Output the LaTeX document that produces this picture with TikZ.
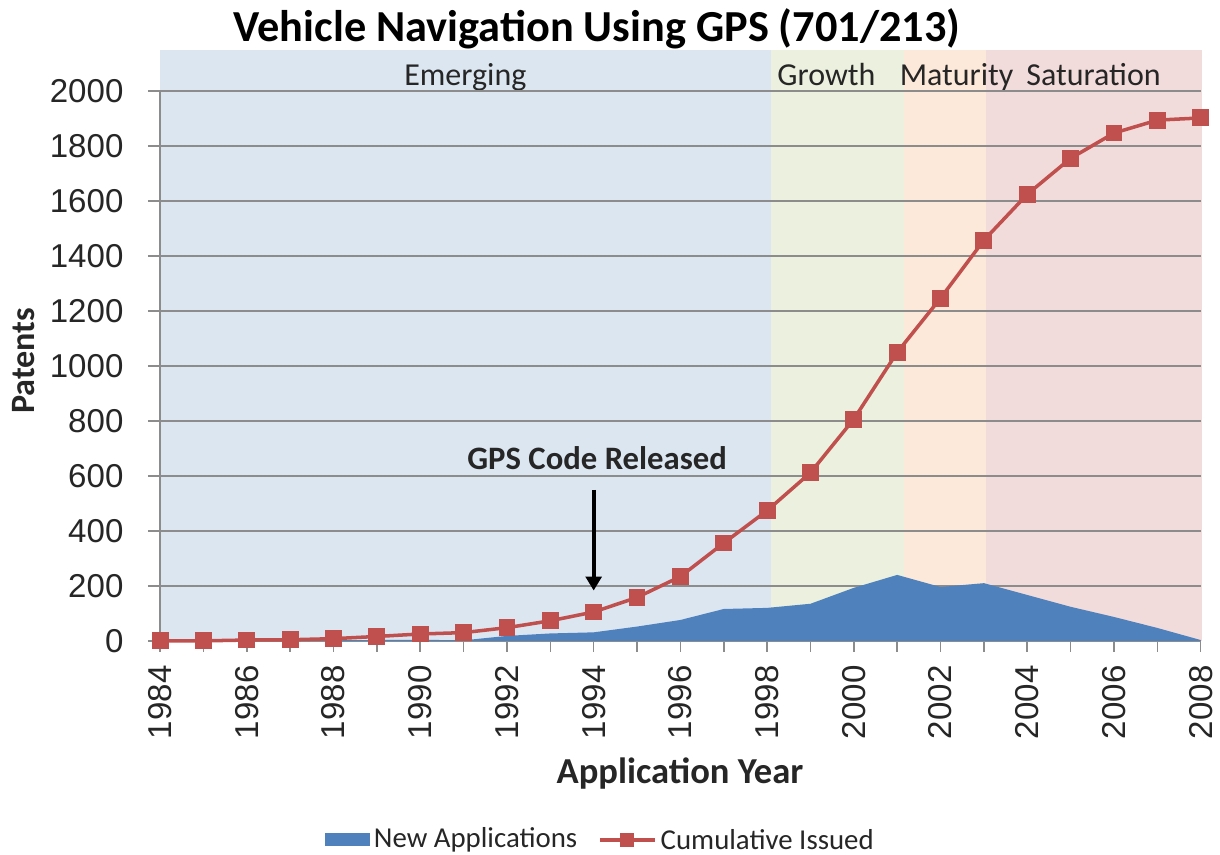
\documentclass[tikz,border=0pt]{standalone}
\usepackage{fontspec}
\setmainfont{Carlito}
\newfontfamily\numfont{Liberation Sans}
\usetikzlibrary{positioning,arrows.meta,plotmarks}

\definecolor{emergingbg}{RGB}{220,230,241}
\definecolor{growthbg}{RGB}{235,241,222}
\definecolor{maturitybg}{RGB}{253,233,217}
\definecolor{saturationbg}{RGB}{242,220,219}
\definecolor{newappblue}{RGB}{79,129,189}
\definecolor{issuedred}{RGB}{192,80,77}
\definecolor{gridgray}{RGB}{140,140,140}
\definecolor{labelgray}{RGB}{38,38,38}

\begin{document}
\begin{tikzpicture}[x=0.01cm, y=0.01cm]
    % Define styles
    \tikzstyle{band} = [draw=none]
    \tikzstyle{gridline} = [draw=gridgray, line width=0.45pt]
    \tikzstyle{phase} = [anchor=base, inner sep=0pt, text=labelgray, font=\fontsize{9.1}{11}\selectfont]
    \tikzstyle{ytick} = [anchor=east, inner sep=0pt, text=labelgray, font=\numfont\fontsize{9.4}{11}\selectfont]
    \tikzstyle{xtick} = [anchor=east, rotate=90, inner sep=0pt, text=labelgray, font=\numfont\fontsize{9.4}{11}\selectfont]
    \tikzstyle{axistitle} = [inner sep=0pt, text=labelgray, font=\bfseries\fontsize{10.4}{12}\selectfont]
    \tikzstyle{legendtext} = [anchor=west, inner sep=0pt, text=labelgray, font=\fontsize{8.2}{10}\selectfont]
    \tikzstyle{issued} = [draw=issuedred, line width=1pt]
    \tikzstyle{arrow} = [line width=1.2pt, -{Triangle[length=4pt,width=4.5pt]}]

    \useasboundingbox (0,0) rectangle (1220,855);

    % Title
    \node (title) [anchor=base, inner sep=0pt, font=\bfseries\fontsize{12.6}{15}\selectfont] at (597,813) {Vehicle Navigation Using GPS (701/213)};

    % Plot area: one unit in x is a year after 1984, one unit in y is a patent
    \begin{scope}[shift={(1.6cm,2.14cm)}, x=0.43333cm, y=0.00275cm]
        % Life cycle phases
        \fill[band, emergingbg] (0,0) rectangle (14.08,2149);
        \fill[band, growthbg] (14.08,0) rectangle (17.15,2149);
        \fill[band, maturitybg] (17.15,0) rectangle (19.04,2149);
        \fill[band, saturationbg] (19.04,0) rectangle (24.02,2149);
        \node (emerging) [phase] at (7.04,2022) {Emerging};
        \node (growth) [phase] at (15.37,2022) {Growth};
        \node (maturity) [phase] at (18.37,2022) {Maturity};
        \node (saturation) [phase] at (21.53,2022) {Saturation};

        % Grid and axes
        \foreach \v in {0,200,...,2000} {
            \draw[gridline] (-0.28,\v) -- (24,\v);
            \node (ylab\v) [ytick] at (-0.83,\v) {\v};
        }
        \draw[gridline] (0,0) -- (0,2000);
        \foreach \i in {0,...,24}
            \draw[gridline] (\i,0) -- (\i,-40);
        \foreach \yr in {1984,1986,...,2008}
            \node (year\yr) [xtick] at ({\yr-1984},-87) {\yr};

        % New applications
        \fill[newappblue] (0,0) -- plot coordinates {(0,0) (1,0) (2,1) (3,1) (4,2) (5,3) (6,4) (7,2) (8,18) (9,27) (10,31) (11,52) (12,76) (13,116) (14,120) (15,135) (16,193) (17,240) (18,196) (19,210) (20,167) (21,124) (22,87) (23,47) (24,3)} -- (24,0) -- cycle;

        % Cumulative issued
        \draw[issued] plot[mark=square*, mark size=2.2pt, mark options={fill=issuedred, draw=issuedred, line width=0.4pt}] coordinates {(0,0) (1,0) (2,3) (3,4) (4,8) (5,16) (6,25) (7,30) (8,48) (9,73) (10,105) (11,158) (12,234) (13,356) (14,474) (15,612) (16,807) (17,1050) (18,1247) (19,1458) (20,1625) (21,1756) (22,1848) (23,1895) (24,1903)};

        % GPS code release
        \node (gpslabel) [anchor=base, inner sep=0pt, font=\bfseries\fontsize{9.3}{11}\selectfont, text=labelgray] at (10.08,625) {GPS Code Released};
        \coordinate (arrowtop) at (10,549);
        \coordinate (arrowtip) at (10,183);
        \draw[arrow] (arrowtop) -- (arrowtip);
    \end{scope}

    % Axis titles
    \node (xtitle) [axistitle, anchor=base] at (680,71) {Application Year};
    \node (ytitle) [axistitle, rotate=90, font=\bfseries\fontsize{9.7}{12}\selectfont] at (24,494) {Patents};

    % Legend
    \node (newappbox) [fill=newappblue, minimum width=45*0.01cm, minimum height=13*0.01cm, inner sep=0pt] at (347,15) {};
    \node (newapptext) [legendtext, right=3*0.01cm of newappbox] {New Applications};
    \coordinate (issuedstart) at (600,15);
    \coordinate (issuedend) at (655,15);
    \draw[issued] (issuedstart) -- (issuedend);
    \node (issuedmark) [fill=issuedred, minimum size=4pt, inner sep=0pt] at (627,15) {};
    \node (issuedtext) [legendtext, right=5*0.01cm of issuedend] {Cumulative Issued};
\end{tikzpicture}
\end{document}
